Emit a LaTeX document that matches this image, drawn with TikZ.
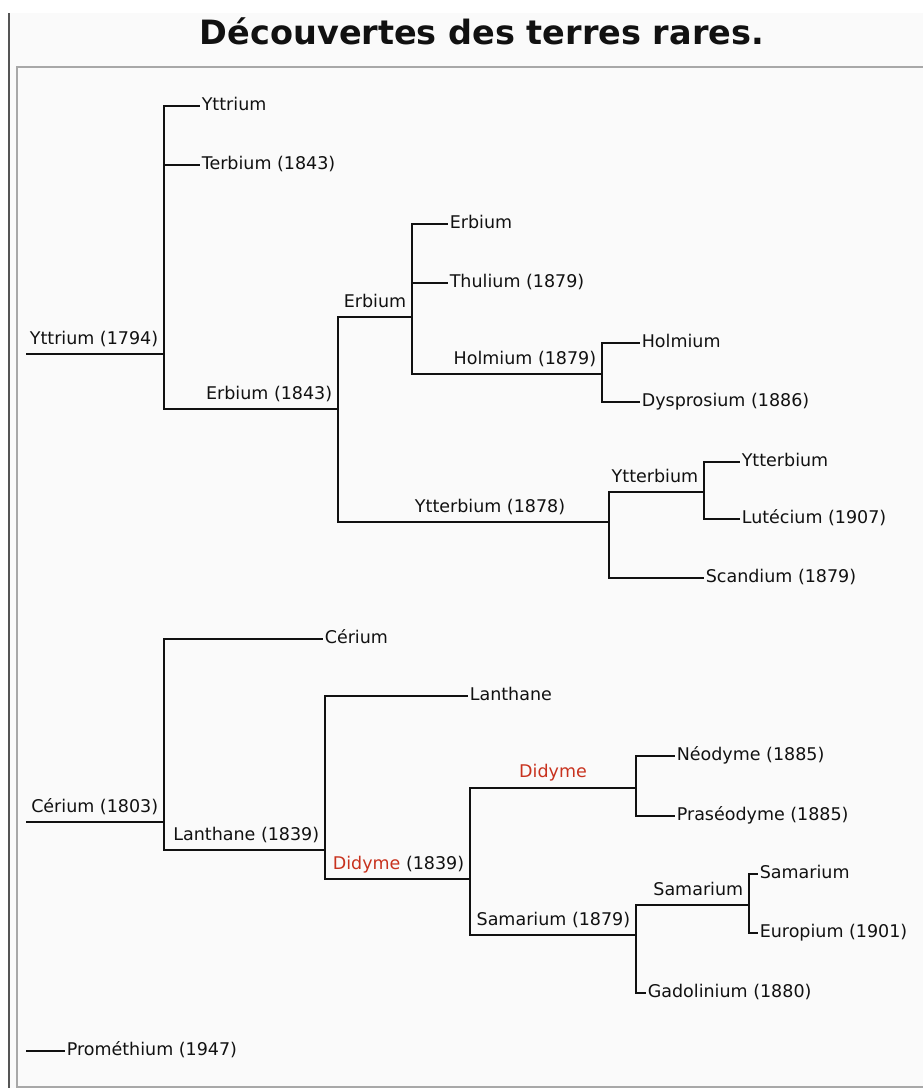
\documentclass[tikz,border=0pt]{standalone}
\usepackage{fontspec}
\setmainfont{DejaVu Sans}
\usetikzlibrary{positioning}

\definecolor{bgfill}{HTML}{FAFAFA}
\definecolor{framedark}{HTML}{555555}
\definecolor{framegray}{HTML}{A8A8A8}
\definecolor{ink}{HTML}{111111}
\definecolor{didred}{HTML}{C8321E}

\begin{document}
\begin{tikzpicture}[x=1pt,y=-1pt,line width=1.6pt,ink,
        every node/.style={font=\fontsize{17.5}{20}\selectfont,text=ink},
        leaf/.style={anchor=west,inner sep=0pt,inner xsep=1pt,text height=12.8pt,text depth=0pt,yshift=2pt},
        up/.style={anchor=base east,inner sep=0pt,xshift=-5pt,yshift=10pt},
        mid/.style={anchor=base,inner sep=0pt,yshift=11pt}]

  \useasboundingbox (0,0) rectangle (923,1088);
  \fill[white] (0,0) rectangle (923,1088);
  \fill[bgfill] (9,13) rectangle (923,1088);
  \draw[framedark,line width=2pt] (9,13) -- (9,1088);
  \draw[framegray,line width=2pt] (930,67) -- (16.5,67) -- (16.5,1087) -- (930,1087);

  \node[anchor=base,font=\bfseries\fontsize{33.5}{38}\selectfont] (title) at (482,44) {Découvertes des terres rares.};

  % yttrium
  \coordinate (y0) at (26,354);  \coordinate (yt) at (164,354);
  \coordinate (yt1) at (200,106); \coordinate (tb) at (200,165);
  \coordinate (er) at (338,409);  \coordinate (er1) at (412,317);
  \coordinate (er2) at (448,224); \coordinate (tm) at (448,283);
  \coordinate (ho) at (602,374);  \coordinate (ho1) at (640,343);
  \coordinate (dy) at (640,402);  \coordinate (yb) at (609,522);
  \coordinate (yb1) at (704,492); \coordinate (sc) at (704,578);
  \coordinate (yb2) at (740,462); \coordinate (lu) at (740,519);

  \draw (y0) -- (yt);
  \draw (yt) |- (yt1)  (yt) |- (tb)  (yt) |- (er);
  \draw (er) |- (er1)  (er) |- (yb);
  \draw (er1) |- (er2)  (er1) |- (tm)  (er1) |- (ho);
  \draw (ho) |- (ho1)  (ho) |- (dy);
  \draw (yb) |- (yb1)  (yb) |- (sc);
  \draw (yb1) |- (yb2)  (yb1) |- (lu);

  \node[up] (ytl) at (yt) {Yttrium (1794)};
  \node[leaf] (yt1l) at (yt1) {Yttrium};
  \node[leaf] (tbl) at (tb) {Terbium (1843)};
  \node[up] (erl) at (er) {Erbium (1843)};
  \node[up] (er1l) at (er1) {Erbium};
  \node[leaf] (er2l) at (er2) {Erbium};
  \node[leaf] (tml) at (tm) {Thulium (1879)};
  \node[up] (hol) at (ho) {Holmium (1879)};
  \node[leaf] (ho1l) at (ho1) {Holmium};
  \node[leaf] (dyl) at (dy) {Dysprosium (1886)};
  \node[up,xshift=-38pt] (ybl) at (yb) {Ytterbium (1878)};
  \node[up] (yb1l) at (yb1) {Ytterbium};
  \node[leaf] (yb2l) at (yb2) {Ytterbium};
  \node[leaf] (lul) at (lu) {Lutécium (1907)};
  \node[leaf] (scl) at (sc) {Scandium (1879)};

  % cerium
  \coordinate (c0) at (26,822);   \coordinate (ce) at (164,822);
  \coordinate (ce1) at (323,639); \coordinate (la) at (325,850);
  \coordinate (la1) at (468,696); \coordinate (di) at (470,879);
  \coordinate (di1) at (636,788); \coordinate (sm) at (636,935);
  \coordinate (nd) at (675,756);  \coordinate (pr) at (675,816);
  \coordinate (sm1) at (749,905); \coordinate (gd) at (646,993);
  \coordinate (sm2) at (758,874); \coordinate (eu) at (758,933);

  \draw (c0) -- (ce);
  \draw (ce) |- (ce1)  (ce) |- (la);
  \draw (la) |- (la1)  (la) |- (di);
  \draw (di) |- (di1)  (di) |- (sm);
  \draw (di1) |- (nd)  (di1) |- (pr);
  \draw (sm) |- (sm1)  (sm) |- (gd);
  \draw (sm1) |- (sm2)  (sm1) |- (eu);

  \node[up] (cel) at (ce) {Cérium (1803)};
  \node[leaf] (ce1l) at (ce1) {Cérium};
  \node[up] (lal) at (la) {Lanthane (1839)};
  \node[leaf] (la1l) at (la1) {Lanthane};
  \node[up] (dil) at (di) {\textcolor{didred}{Didyme} (1839)};
  \node[mid,text=didred] (di1l) at (553,788) {Didyme};
  \node[leaf] (ndl) at (nd) {Néodyme (1885)};
  \node[leaf] (prl) at (pr) {Praséodyme (1885)};
  \node[up] (sml) at (sm) {Samarium (1879)};
  \node[up] (sm1l) at (sm1) {Samarium};
  \node[leaf] (sm2l) at (sm2) {Samarium};
  \node[leaf] (eul) at (eu) {Europium (1901)};
  \node[leaf] (gdl) at (gd) {Gadolinium (1880)};

  % promethium
  \coordinate (p0) at (26,1051); \coordinate (pm) at (65,1051);
  \draw (p0) -- (pm);
  \node[leaf] (pml) at (pm) {Prométhium (1947)};

\end{tikzpicture}
\end{document}
